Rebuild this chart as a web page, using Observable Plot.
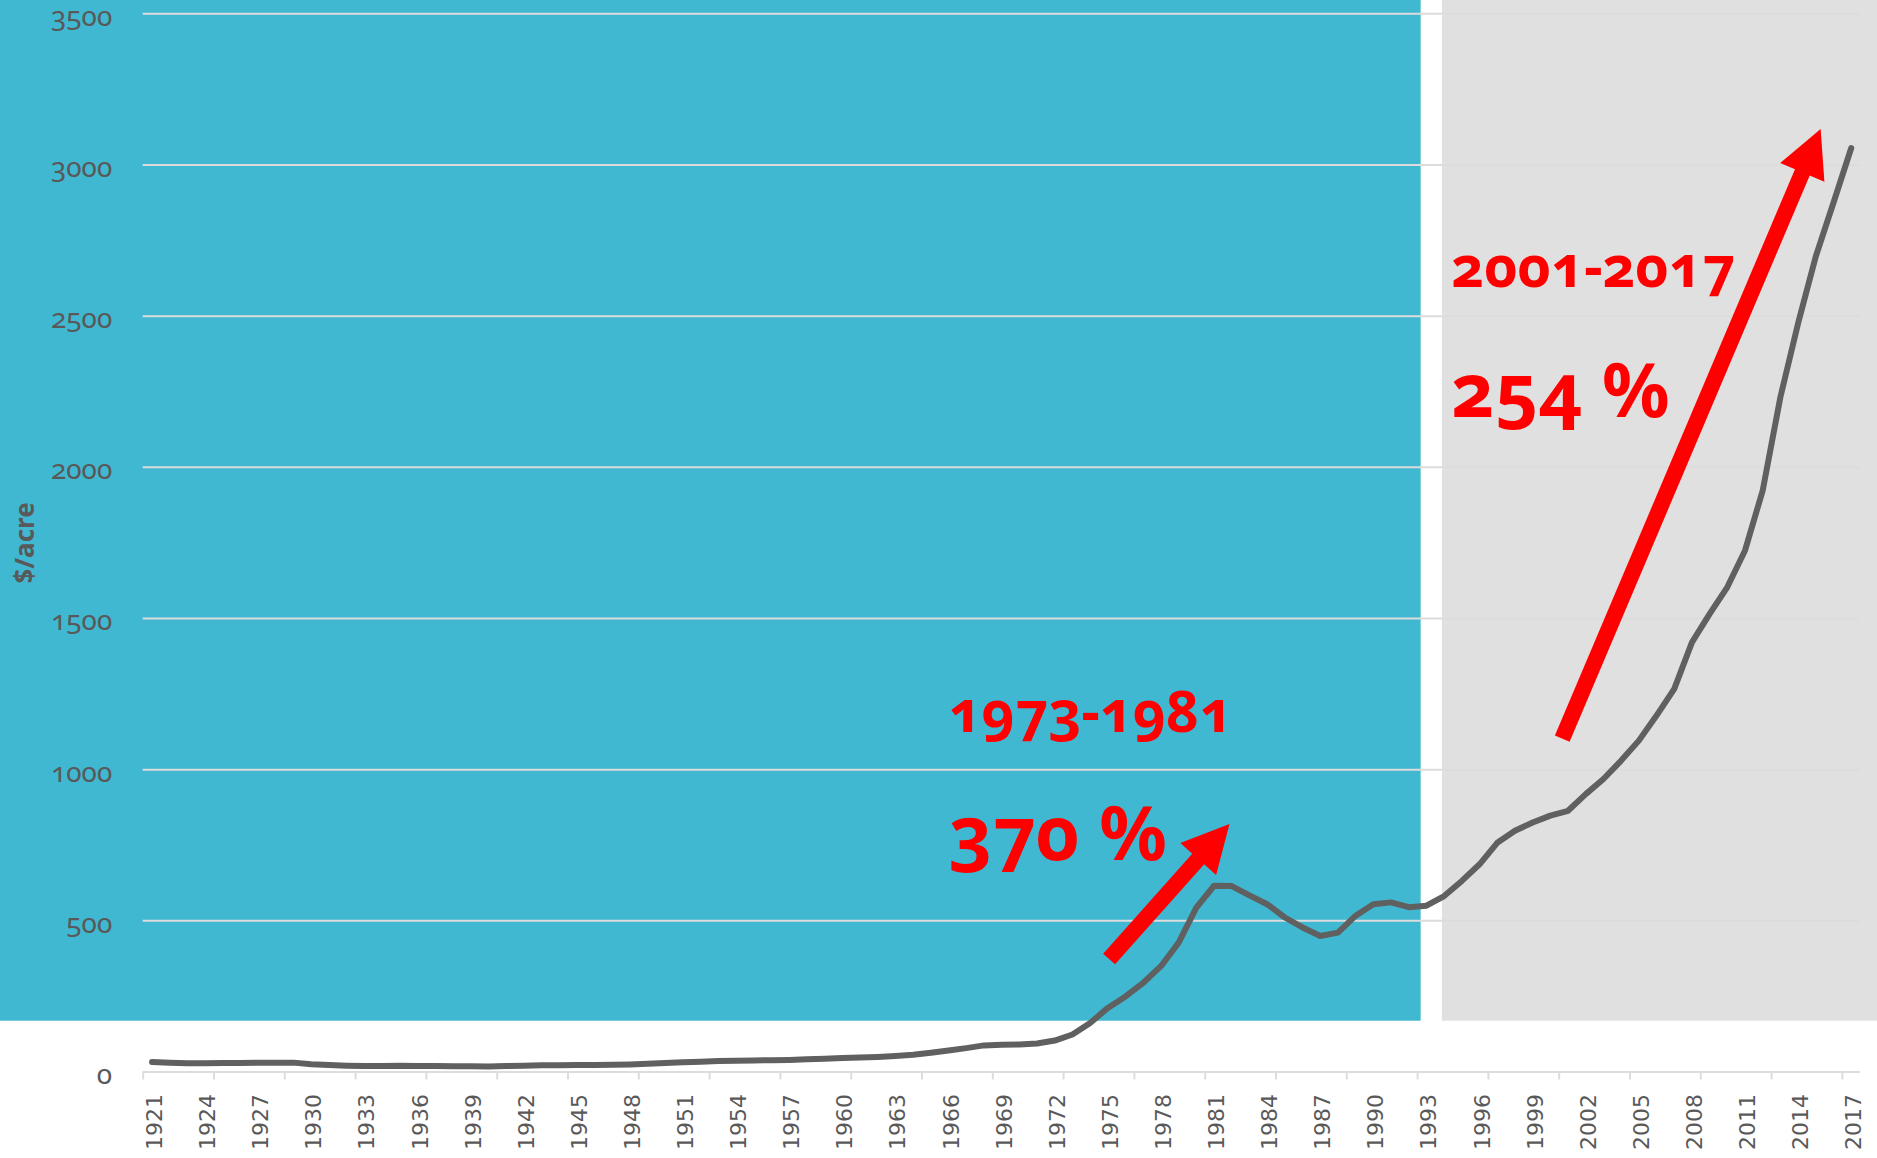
<!DOCTYPE html>
<html>
<head>
<meta charset="utf-8">
<script src="https://cdn.jsdelivr.net/npm/d3@7"></script>
<script src="https://cdn.jsdelivr.net/npm/@observablehq/plot@0.6"></script>
<style>
  html, body { margin: 0; padding: 0; background: #ffffff; overflow: hidden; }
  #chart svg { display: block; }
  #chart svg text { font-variant-numeric: oldstyle-nums; }
</style>
</head>
<body>
<div id="chart"></div>
<script>
// ---------- data ----------
const years = [
  1921,1922,1923,1924,1925,1926,1927,1928,1929,1930,
  1931,1932,1933,1934,1935,1936,1937,1938,1939,1940,
  1941,1942,1943,1944,1945,1946,1947,1948,1949,1950,
  1951,1952,1953,1954,1955,1956,1957,1958,1959,1960,
  1961,1962,1963,1964,1965,1966,1967,1968,1969,1970,
  1971,1972,1973,1974,1975,1976,1977,1978,1979,1980,
  1981,1982,1983,1984,1985,1986,1987,1988,1989,1990,
  1991,1992,1993,1994,1995,1996,1997,1998,1999,2000,
  2001,2002,2003,2004,2005,2006,2007,2008,2009,2010,
  2011,2012,2013,2014,2015,2016,2017
];
const valuePerAcre = [
  33,31,29,29,30,30,31,31,31,26,
  23,21,20,20,21,20,20,19,19,18,
  20,21,22,22,23,23,24,25,27,30,
  32,34,36,37,38,39,40,42,44,46,
  48,50,53,57,64,71,79,88,90,91,
  94,104,124,162,212,250,295,350,428,544,
  616,615,584,555,511,478,450,461,517,555,
  561,545,550,582,632,687,758,798,825,848,
  864,919,969,1030,1096,1179,1267,1421,1515,1604,
  1725,1924,2233,2477,2698,2876,3056
];
const xTickLabels = [
  1921,1924,1927,1930,1933,1936,1939,1942,1945,1948,1951,
  1954,1957,1960,1963,1966,1969,1972,1975,1978,1981,1984,
  1987,1990,1993,1996,1999,2002,2005,2008,2011,2014,2017
];
const xTickMarks = [
  1920.5,1924.5,1928.5,1932.5,1936.5,1940.5,1944.5,1948.5,1952.5,
  1956.5,1960.5,1964.5,1968.5,1972.5,1976.5,1980.5,1984.5,1988.5,
  1992.5,1996.5,2000.5,2004.5,2008.5,2012.5,2016.5
];
const yTicks = [0, 500, 1000, 1500, 2000, 2500, 3000, 3500];
const yGrid = [500, 1000, 1500, 2000, 2500, 3000, 3500];

// background periods (in year / value units)
const periodStart = [1912.4, 1993.9];
const periodEnd = [1992.7, 2018.5];
const periodBottom = 168;
const periodTop = 3545;

// annotation arrows (tail -> tip, in year / value units)
const arrowTailYear = [1975.1, 2000.7];
const arrowTailValue = [372, 1101];
const arrowTipYear = [1981.9, 2015.3];
const arrowTipValue = [819, 3117];

// annotation texts
const periodLabels = ["1973-1981", "2001-2017"];
const periodLabelYear = [1966.0, 1994.4];
const periodLabelValue = [1123, 2595];
const growthLabels = ["370 %", "254 %"];
const growthLabelYear = [1966.0, 1994.4];
const growthLabelValue = [700, 2166];

// ---------- styles ----------
const BLUE = "#41b8d2";
const GREY_PANEL = "#e0e0e0";
const GRID = "#dcdcdc";
const TEXT_GREY = "#595959";
const LINE_GREY = "#606060";
const RED = "#ff0000";

const series = years.map((y, i) => ({year: y, value: valuePerAcre[i]}));
const arrows = arrowTailYear.map((_, i) => ({
  x1: arrowTailYear[i], y1: arrowTailValue[i], x2: arrowTipYear[i], y2: arrowTipValue[i]
}));
const periodText = periodLabels.map((t, i) => ({text: t, year: periodLabelYear[i], value: periodLabelValue[i]}));
const growthText = growthLabels.map((t, i) => ({text: t, year: growthLabelYear[i], value: growthLabelValue[i]}));

function arrowMark(data, {shaft = 16, headLength = 47, headWidth = 48, fill = RED} = {}) {
  return (index, scales) => {
    const g = d3.create("svg:g").attr("aria-label", "arrows");
    for (const a of data) {
      const x1 = scales.x(a.x1), y1 = scales.y(a.y1);
      const x2 = scales.x(a.x2), y2 = scales.y(a.y2);
      const dx = x2 - x1, dy = y2 - y1, L = Math.hypot(dx, dy);
      const ux = dx / L, uy = dy / L;
      const bx = x2 - ux * headLength, by = y2 - uy * headLength;
      const hw = headWidth / 2;
      g.append("line")
        .attr("x1", x1).attr("y1", y1)
        .attr("x2", bx + ux * 2).attr("y2", by + uy * 2)
        .attr("stroke", fill).attr("stroke-width", shaft);
      g.append("polygon")
        .attr("points", [[x2, y2], [bx - uy * hw, by + ux * hw], [bx + uy * hw, by - ux * hw]]
          .map(p => p.join(",")).join(" "))
        .attr("fill", fill);
    }
    return g.node();
  };
}

const chart = Plot.plot({
  width: 1877,
  height: 1158,
  marginTop: 13.3,
  marginBottom: 86.5,
  marginLeft: 142.7,
  marginRight: 17.4,
  style: {background: "#ffffff", fontFamily: "'Noto Sans', sans-serif", overflow: "visible"},
  x: {type: "linear", domain: [1920.5, 2017.5]},
  y: {domain: [0, 3500]},
  marks: [
    Plot.rect([0], {x1: () => periodStart[0], x2: () => periodEnd[0], y1: periodBottom, y2: periodTop, fill: BLUE}),
    Plot.rect([0], {x1: () => periodStart[1], x2: () => periodEnd[1], y1: periodBottom, y2: periodTop, fill: GREY_PANEL}),
    Plot.gridY(yGrid, {stroke: GRID, strokeOpacity: 1, strokeWidth: 2}),
    Plot.ruleY([0], {stroke: GRID, strokeWidth: 2}),
    Plot.axisX({ticks: xTickMarks, tickSize: 8, tickFormat: () => "", stroke: GRID, strokeWidth: 2, strokeOpacity: 1, label: null}),
    Plot.axisX({
      ticks: xTickLabels, tickSize: 0, tickPadding: 22, tickRotate: -90,
      tickFormat: d => String(d), fontSize: 22, fontFamily: "'DejaVu Sans', sans-serif",
      fill: TEXT_GREY, label: null, dx: 3
    }),
    Plot.axisY({
      ticks: yTicks, tickSize: 0, tickPadding: 31, tickFormat: d => String(d),
      fontSize: 28, fontFamily: "'Noto Sans', sans-serif", fill: TEXT_GREY, label: null, dy: 3
    }),
    Plot.text(["$/acre"], {
      frameAnchor: "left", dx: -118, rotate: -90, fontSize: 26, fontWeight: "bold",
      fill: TEXT_GREY, fontFamily: "'Noto Sans', sans-serif", textAnchor: "middle", lineAnchor: "middle"
    }),
    Plot.line(series, {
      x: "year", y: "value", stroke: LINE_GREY, strokeWidth: 6,
      strokeLinecap: "round", strokeLinejoin: "round"
    }),
    arrowMark(arrows),
    Plot.text(periodText, {
      x: "year", y: "value", text: "text", textAnchor: "start", lineAnchor: "bottom",
      fontSize: 57, fontWeight: "bold", fill: RED, fontFamily: "'Noto Sans', sans-serif"
    }),
    Plot.text(growthText, {
      x: "year", y: "value", text: "text", textAnchor: "start", lineAnchor: "bottom",
      fontSize: 75, fontWeight: "bold", fill: RED, fontFamily: "'Noto Sans', sans-serif"
    })
  ]
});
document.getElementById("chart").appendChild(chart);
</script>
</body>
</html>
